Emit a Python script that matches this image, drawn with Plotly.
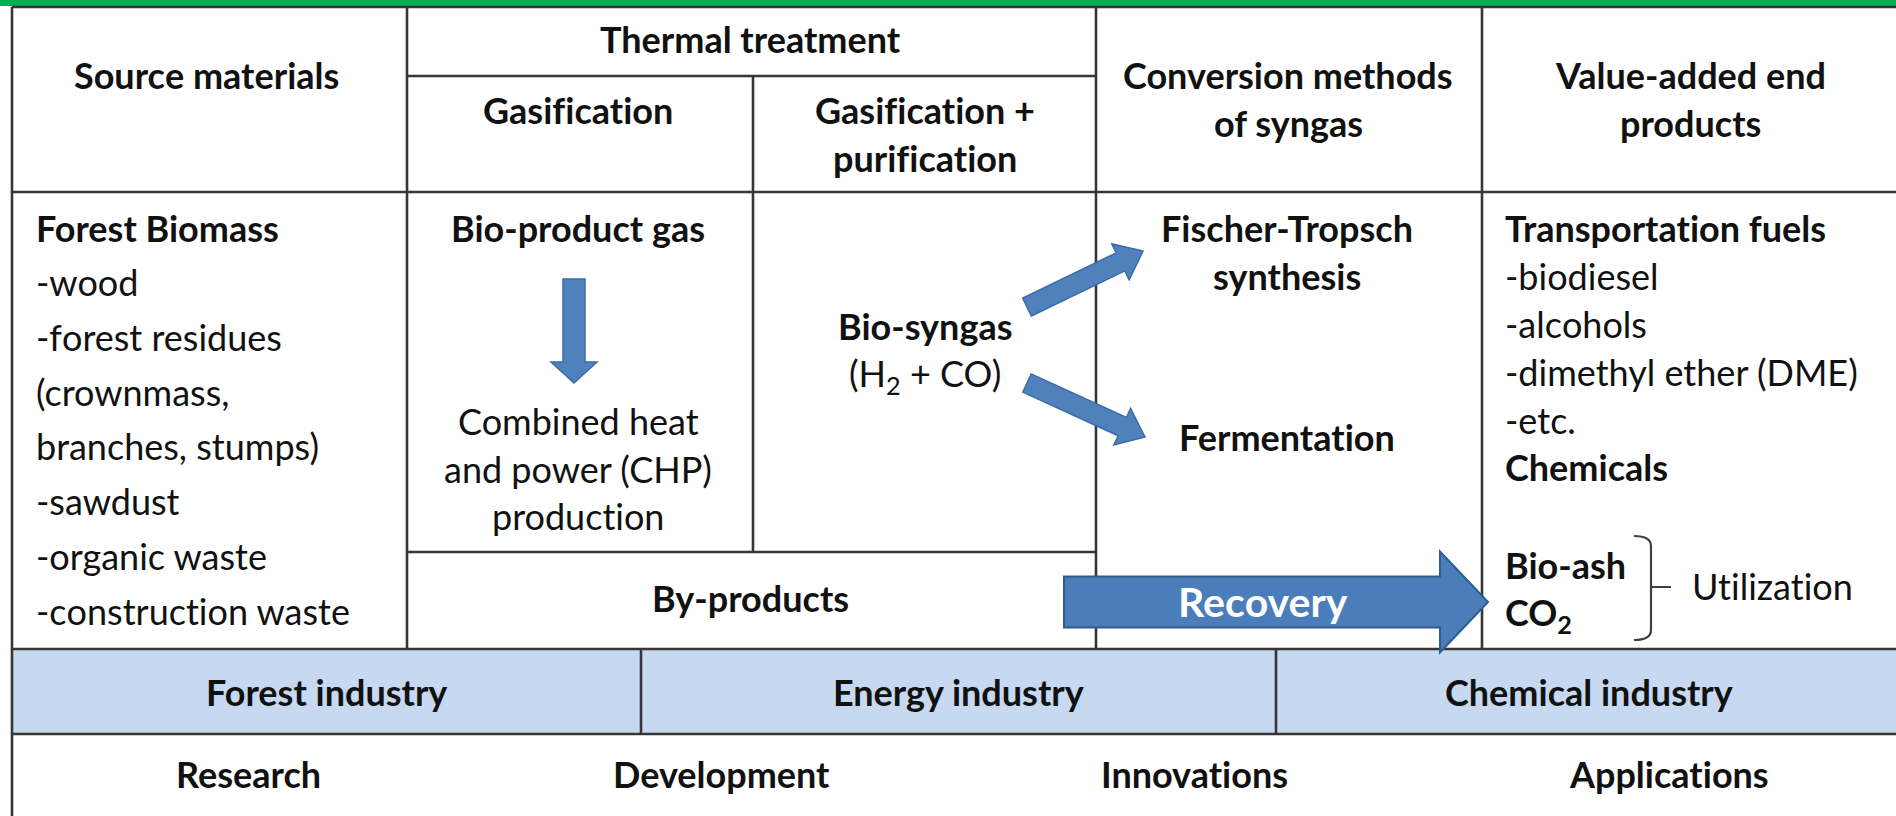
import math
import re
import plotly.graph_objects as go

# ---------------- data (texts of the diagram) ----------------
header_labels = ["Source materials", "Thermal treatment", "Gasification",
                 "Gasification +", "purification", "Conversion methods",
                 "of syngas", "Value-added end", "products"]
source_title = "Forest Biomass"
source_items = ["-wood", "-forest residues", "(crownmass,", "branches, stumps)",
                "-sawdust", "-organic waste", "-construction waste"]
gasif_title = "Bio-product gas"
gasif_product = ["Combined heat", "and power (CHP)", "production"]
syngas_lines = ["Bio-syngas", "(H<sub>2</sub> + CO)"]
conversion_ft = ["Fischer-Tropsch", "synthesis"]
conversion_ferm = "Fermentation"
products_title = "Transportation fuels"
fuel_items = ["-biodiesel", "-alcohols", "-dimethyl ether (DME)", "-etc."]
chemicals_label = "Chemicals"
byproducts_label = "By-products"
recovery_label = "Recovery"
recovered_items = ["Bio-ash", "CO<sub>2</sub>"]
utilization_label = "Utilization"
industries = ["Forest industry", "Energy industry", "Chemical industry"]
stages = ["Research", "Development", "Innovations", "Applications"]

# ---------------- layout geometry (pixels) ----------------
W, H = 1896, 816
FONT = "Lato"
FS = 36
TXT = "#111111"
LINE = "#363636"
LW = 2.6
ARROW_FILL = "#4F81BD"
ARROW_EDGE = "#3D6CA6"
ZWNJ = "\u200c"

fig = go.Figure()
shapes = []
annotations = []


def no_lig(s):
    # break typographic ligatures (fi, ti, ct, ...) of the substitute font
    return re.sub(r"([fftc])(?=[a-z])", lambda m: m.group(1) + ZWNJ, s)


def line(x0, y0, x1, y1, color=LINE, width=LW):
    shapes.append(dict(type="line", xref="x", yref="y", x0=x0, y0=y0, x1=x1, y1=y1,
                       line=dict(color=color, width=width)))


def rect(x0, y0, x1, y1, fill, lw=0, lc=None):
    shapes.append(dict(type="rect", xref="x", yref="y", x0=x0, y0=y0, x1=x1, y1=y1,
                       fillcolor=fill, line=dict(width=lw, color=lc or fill), layer="below"))


def text(s, x, y, bold=False, anchor="center", size=FS, color=TXT):
    s = no_lig(s)
    annotations.append(dict(x=x, y=y, xref="x", yref="y", text=(f"<b>{s}</b>" if bold else s),
                            showarrow=False, xanchor=anchor, yanchor="middle",
                            font=dict(family=FONT, size=size, color=color)))


def block_arrow(tail, tip, shaft_w, head_w, head_l, fill, edge, edge_w=1.5):
    (x0, y0), (x1, y1) = tail, tip
    dx, dy = x1 - x0, y1 - y0
    L = math.hypot(dx, dy)
    ux, uy = dx / L, dy / L
    px, py = -uy, ux
    bx, by = x1 - ux * head_l, y1 - uy * head_l
    pts = [
        (x0 + px * shaft_w / 2, y0 + py * shaft_w / 2),
        (bx + px * shaft_w / 2, by + py * shaft_w / 2),
        (bx + px * head_w / 2, by + py * head_w / 2),
        (x1, y1),
        (bx - px * head_w / 2, by - py * head_w / 2),
        (bx - px * shaft_w / 2, by - py * shaft_w / 2),
        (x0 - px * shaft_w / 2, y0 - py * shaft_w / 2),
    ]
    path = "M " + " L ".join(f"{x:.1f},{y:.1f}" for x, y in pts) + " Z"
    shapes.append(dict(type="path", xref="x", yref="y", path=path, fillcolor=fill,
                       line=dict(color=edge, width=edge_w), layer="above"))


# green top bar and band backgrounds
rect(0, 0, W, 6, "#00B050")
rect(12, 649, W, 734, "#C6D9F1")

# column positions
XL, C1, C1b, C2, C3 = 12, 407, 753, 1096, 1482
Y_TOP, Y_SUB, Y_HEAD, Y_BY, Y_BAND, Y_BAND2 = 7, 76, 192, 552, 649, 734

line(XL, Y_TOP, W, Y_TOP)
line(XL, Y_TOP, XL, H)
for cx in (C1, C2, C3):
    line(cx, Y_TOP, cx, Y_BAND)
line(C1, Y_SUB, C2, Y_SUB)
line(C1b, Y_SUB, C1b, Y_BY)
line(XL, Y_HEAD, W, Y_HEAD)
line(C1, Y_BY, C2, Y_BY)
line(XL, Y_BAND, W, Y_BAND)
line(XL, Y_BAND2, W, Y_BAND2)
for bx in (641, 1276):
    line(bx, Y_BAND, bx, Y_BAND2)

# header texts
hdr_pos = [(206, 75), (750, 39), (578, 110), (925, 110), (925, 158),
           (1288, 75), (1288, 123), (1690, 75), (1690, 123)]
for s, (x, y) in zip(header_labels, hdr_pos):
    text(s, x, y, bold=True)

# source materials column
text(source_title, 34, 228, bold=True, anchor="left")
for i, s in enumerate(source_items):
    text(s, 34, 282 + i * 54.8, anchor="left")

# gasification column
text(gasif_title, 578, 228, bold=True)
for i, s in enumerate(gasif_product):
    text(s, 578, 421 + i * 47.5)
block_arrow((574, 279), (574, 383), 22, 46, 21, ARROW_FILL, ARROW_EDGE)

# gasification + purification column
text(syngas_lines[0], 925, 326, bold=True)
text(syngas_lines[1], 925, 375)
block_arrow((1027, 307), (1143, 251), 20, 40, 25, ARROW_FILL, ARROW_EDGE)
block_arrow((1027, 383), (1145, 437), 20, 40, 25, ARROW_FILL, ARROW_EDGE)

# conversion column
text(conversion_ft[0], 1287, 228, bold=True)
text(conversion_ft[1], 1287, 276, bold=True)
text(conversion_ferm, 1287, 437, bold=True)

# end products column
text(products_title, 1503, 228, bold=True, anchor="left")
for i, s in enumerate(fuel_items):
    text(s, 1503, 276 + i * 48, anchor="left")
text(chemicals_label, 1503, 467, bold=True, anchor="left")

# by-products and recovery
text(byproducts_label, 750, 598, bold=True)
block_arrow((1064, 602), (1488, 602), 51, 101, 48, "#4A7DBA", "#2F5B8E", edge_w=2)
text(recovery_label, 1263, 601, bold=True, size=41, color="#FFFFFF")
text(recovered_items[0], 1503, 565, bold=True, anchor="left")
text(recovered_items[1], 1503, 614, bold=True, anchor="left")

# bracket with middle tick
shapes.append(dict(type="path", xref="x", yref="y",
                   path="M 1634,536 Q 1651,536 1651,546 L 1651,587 L 1671,587 "
                        "M 1651,587 L 1651,630 Q 1651,640 1634,640",
                   line=dict(color="#404040", width=2.2)))
text(utilization_label, 1690, 586, anchor="left")

# industry band
for s, x in zip(industries, (326, 958, 1589)):
    text(s, x, 692, bold=True)

# bottom row
for s, x in zip(stages, (248, 721, 1194, 1669)):
    text(s, x, 774, bold=True)

fig.update_layout(
    width=W, height=H, margin=dict(l=0, r=0, t=0, b=0),
    xaxis=dict(range=[0, W], visible=False, fixedrange=True),
    yaxis=dict(range=[H, 0], visible=False, fixedrange=True),
    plot_bgcolor="white", paper_bgcolor="white",
    shapes=shapes, annotations=annotations, showlegend=False,
)

fig.write_html("out.html", config={"displayModeBar": False},
               post_script="document.body.style.margin='0';document.body.style.overflow='hidden';")
